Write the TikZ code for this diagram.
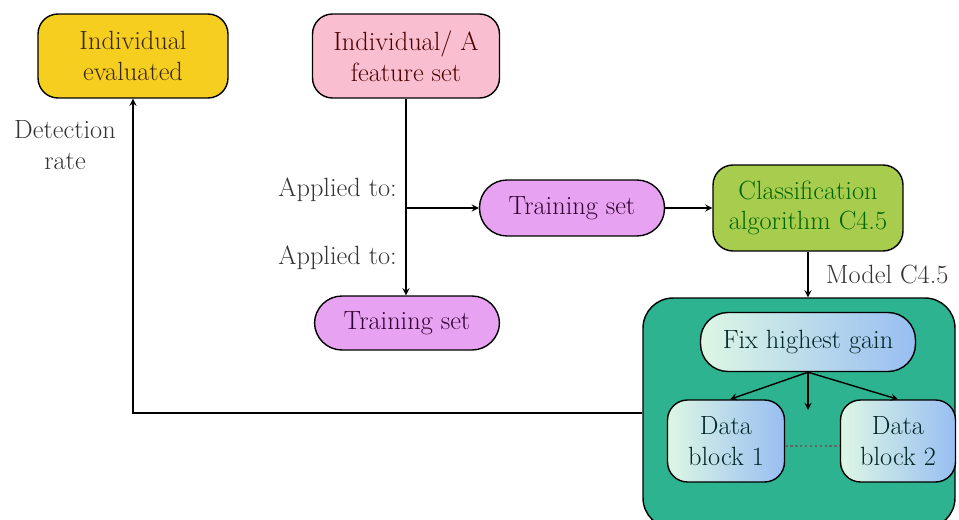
\documentclass[tikz,border=0pt]{standalone}
\usetikzlibrary{positioning}
\definecolor{evalcol}{HTML}{F6CE1F}
\definecolor{featcol}{HTML}{F9BFD1}
\definecolor{traincol}{HTML}{E7A3F2}
\definecolor{classcol}{HTML}{A8CC4E}
\definecolor{blockcol}{HTML}{2DB38F}
\definecolor{lightgr}{HTML}{DDF7E4}
\definecolor{lightbl}{HTML}{98BEF2}

\begin{document}
\begin{tikzpicture}[x=0.02cm,y=-0.02cm,
  font=\fontsize{15}{17.5}\selectfont,
  box/.style={draw,thick,rounded corners=0.4cm,align=center,inner sep=2pt},
  pill/.style={box,rounded corners=0.55cm},
  shade/.style={left color=lightgr,right color=lightbl},
  arr/.style={thick,->,>=stealth}]
  \useasboundingbox (0,0) rectangle (959,520);
  \node[box,fill=evalcol,text=black!70!brown,minimum width=3.8cm,minimum height=1.68cm] (eval) at (133,56) {Individual\\evaluated};
  \node[box,fill=featcol,text=black!70!red,minimum width=3.74cm,minimum height=1.68cm] (feat) at (406,56) {Individual/ A\\feature set};
  \node[pill,fill=traincol,text=black!60!violet,minimum width=3.7cm,minimum height=1.12cm] (trainA) at (572,208) {Training set};
  \node[pill,fill=traincol,text=black!60!violet,minimum width=3.7cm,minimum height=1.08cm] (trainB) at (407,323) {Training set};
  \node[box,fill=classcol,text=black!60!green,minimum width=3.8cm,minimum height=1.72cm] (class) at (808,208) {Classification\\algorithm C4.5};
  \node[draw,thick,fill=blockcol,rounded corners=0.6cm,minimum width=6.24cm,minimum height=4.6cm] (tree) at (799,413) {};
  \node[pill,shade,text=black!70!teal,minimum width=4.3cm,minimum height=1.18cm] (fix) at (808,342) {Fix highest gain};
  \node[box,shade,text=black!70!teal,minimum width=2.34cm,minimum height=1.64cm] (blkA) at (726,441) {Data\\block 1};
  \node[box,shade,text=black!70!teal,minimum width=2.3cm,minimum height=1.64cm] (blkB) at (898,441) {Data\\block 2};
  \coordinate (split) at (feat.south |- trainA.west);
  \coordinate (mid) at (808,410);
  \draw[thick] (feat.south) -- (split);
  \draw[arr] (split) -- (split |- trainB.north);
  \draw[arr] (split) -- (trainA.west);
  \draw[arr] (trainA.east) -- (class.west);
  \draw[arr] (class.south) -- (tree.north -| class.south);
  \draw[arr] (fix.south) -- ([xshift=0.08cm]blkA.north);
  \draw[arr] (fix.south) -- (mid);
  \draw[arr] (fix.south) -- (blkB.north);
  \draw[line width=1.6pt,dash pattern=on 1.4pt off 1.4pt,black!60] ([yshift=-0.1cm]blkA.east) -- ([yshift=-0.1cm]blkB.west);
  \draw[arr] (tree.west) -| (eval.south);
  \node[align=center,text=black!80] (rate) at (65,145) {Detection\\rate};
  \node[anchor=east,text=black!80] (appA) at (403,190) {Applied to:};
  \node[anchor=east,text=black!80] (appB) at (403,258) {Applied to:};
  \node[anchor=west,text=black!80] (model) at (820,274) {Model C4.5};
\end{tikzpicture}
\end{document}
